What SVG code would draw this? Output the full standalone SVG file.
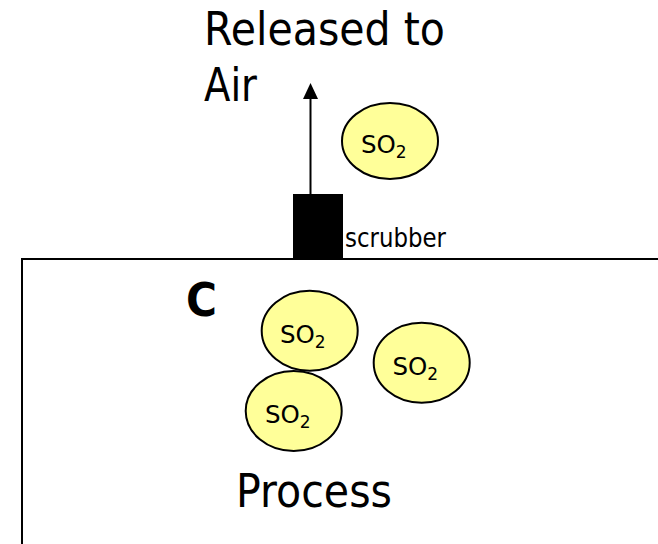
<svg xmlns="http://www.w3.org/2000/svg" width="658" height="544" viewBox="0 0 658 544">
  <style>
    .big { font-family: "DejaVu Sans", Verdana, sans-serif; font-size: 47px; fill: #000; }
    .small { font-family: "DejaVu Sans", Verdana, sans-serif; font-size: 27px; fill: #000; }
    .so { font-family: "DejaVu Sans", Verdana, sans-serif; font-size: 24.5px; fill: #000; }
    .sub { font-size: 17px; }
    .gas { fill: #FFFF99; stroke: #000; stroke-width: 2; }
  </style>
  <rect x="0" y="0" width="658" height="544" fill="#fff"/>

  <g id="process">
    <rect x="22" y="259" width="660" height="300" fill="#fff" stroke="#000" stroke-width="2"/>
    <text class="big" x="236" y="507" textLength="156" lengthAdjust="spacingAndGlyphs">Process</text>
    <text class="big" x="186" y="316" font-weight="bold" textLength="31" lengthAdjust="spacingAndGlyphs">C</text>
  </g>

  <g id="scrubber">
    <rect x="293" y="194" width="50" height="66" fill="#000"/>
    <text class="small" x="345" y="247" textLength="101" lengthAdjust="spacingAndGlyphs">scrubber</text>
  </g>

  <g id="air">
    <text class="big" x="204" y="45" textLength="241" lengthAdjust="spacingAndGlyphs">Released to</text>
    <text class="big" x="204" y="101" textLength="53" lengthAdjust="spacingAndGlyphs">Air</text>
  </g>

  <g id="connectors">
    <line x1="310.5" y1="194" x2="310.5" y2="98" stroke="#000" stroke-width="2"/>
    <polygon points="310.5,83 303,99 318,99" fill="#000"/>
  </g>

  <g id="so2-air">
    <ellipse class="gas" cx="390" cy="141" rx="48" ry="38"/>
    <text class="so" x="361" y="153">SO<tspan class="sub" dy="5">2</tspan></text>
  </g>
  <g id="so2-1">
    <ellipse class="gas" cx="309.7" cy="330.7" rx="48" ry="40"/>
    <text class="so" x="280" y="343">SO<tspan class="sub" dy="5">2</tspan></text>
  </g>
  <g id="so2-2">
    <ellipse class="gas" cx="421.7" cy="362.8" rx="48" ry="40"/>
    <text class="so" x="392.5" y="375">SO<tspan class="sub" dy="5">2</tspan></text>
  </g>
  <g id="so2-3">
    <ellipse class="gas" cx="293.7" cy="411" rx="48" ry="40"/>
    <text class="so" x="265" y="423">SO<tspan class="sub" dy="5">2</tspan></text>
  </g>
</svg>
